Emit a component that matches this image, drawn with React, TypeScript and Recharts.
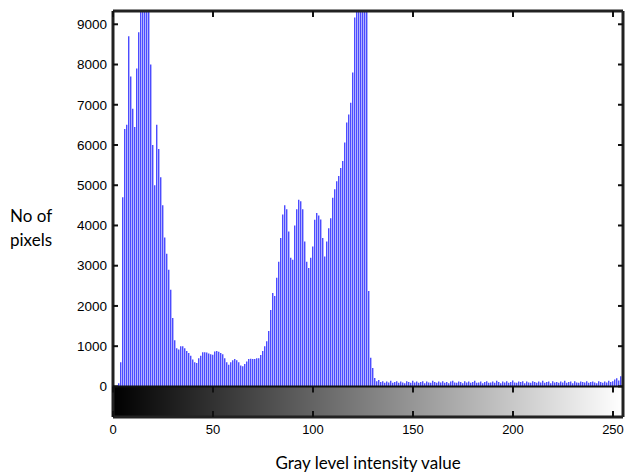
import { BarChart, Bar, XAxis, YAxis, ReferenceArea, ReferenceLine } from 'recharts';

// gray levels 0..255
const grayLevels: number[] = Array.from({ length: 256 }, (_, i) => i);

// pixel counts per gray level (bars above the top are clipped)
const pixelCounts: number[] = [
  0, 0, 0, 80, 600, 4700, 6400, 6500, 8700, 7700,
  6900, 6450, 7900, 8800, 9800, 12000, 12000, 12000, 11000, 8000,
  6000, 5000, 6500, 5900, 5200, 4500, 3700, 3300, 2900, 2400,
  1700, 1150, 950, 920, 1000, 1000, 950, 880, 830, 760,
  670, 600, 580, 700, 760, 850, 850, 840, 820, 800,
  790, 870, 880, 860, 830, 800, 700, 600, 540, 600,
  650, 680, 650, 600, 520, 500, 560, 620, 680, 690,
  680, 680, 700, 700, 780, 880, 1000, 1120, 1380, 1900,
  2320, 2250, 2700, 3100, 3690, 4270, 4500, 4400, 3850, 3200,
  3150, 4000, 4400, 4640, 4600, 4400, 3600, 3100, 2940, 3200,
  3480, 4140, 4310, 4250, 4150, 3690, 3230, 3600, 3930, 4180,
  4690, 4900, 5100, 5230, 5430, 5600, 6060, 6560, 6760, 7050,
  7800, 9170, 11000, 12000, 12000, 12000, 12000, 12000, 2370, 710,
  460, 210, 130, 160, 110, 130, 90, 120, 100, 140,
  90, 110, 130, 90, 120, 100, 80, 130, 110, 90,
  140, 100, 120, 90, 110, 130, 80, 120, 100, 90,
  140, 110, 90, 120, 100, 130, 90, 110, 80, 120,
  140, 100, 90, 120, 110, 80, 130, 100, 120, 90,
  110, 140, 90, 100, 120, 80, 110, 130, 90, 100,
  120, 90, 140, 110, 80, 120, 100, 130, 90, 110,
  150, 100, 90, 120, 110, 130, 80, 120, 100, 90,
  130, 110, 90, 120, 100, 140, 90, 110, 120, 80,
  130, 100, 110, 90, 120, 100, 140, 90, 110, 120,
  80, 130, 100, 90, 120, 110, 100, 130, 90, 110,
  120, 100, 80, 130, 110, 90, 120, 100, 140, 110,
  130, 170, 200, 150, 250, 290,
];

const xTicks: number[] = [0, 50, 100, 150, 200, 250];
const yTicks: number[] = [0, 1000, 2000, 3000, 4000, 5000, 6000, 7000, 8000, 9000];
const xDomain: [number, number] = [0, 255];
const yDomain: [number, number] = [-760, 9330];

const chartData = grayLevels.map((level, i) => ({ level, count: pixelCounts[i] }));

const tickFont = { fontFamily: '"Liberation Sans", Arial, sans-serif', fill: '#000' };

export default function App() {
  const [xMin, xMax] = xDomain;
  const [yMin, yMax] = yDomain;
  return (
    <div style={{ position: 'absolute', left: 0, top: 0, width: 625, height: 474, background: '#fff' }}>
      <div
        style={{
          position: 'absolute',
          left: 10,
          top: 204,
          fontFamily: 'Lato, sans-serif',
          fontSize: 17,
          lineHeight: '24px',
          color: '#000',
        }}
      >
        No of
        <br />
        pixels
      </div>
      <BarChart
        width={625}
        height={474}
        data={chartData}
        margin={{ top: 11, right: 2, bottom: 0, left: 13 }}
        barCategoryGap="15%"
      >
        <XAxis
          dataKey="level"
          type="number"
          domain={xDomain}
          ticks={xTicks}
          height={57}
          tickSize={0}
          tickMargin={8}
          tickLine={false}
          axisLine={false}
          tick={{ ...tickFont, fontSize: 13 }}
          label={{
            value: 'Gray level intensity value',
            position: 'insideBottom',
            offset: 5,
            style: { fontFamily: 'Lato, sans-serif', fontSize: 17, fill: '#000' },
          }}
        />
        <YAxis
          domain={yDomain}
          allowDataOverflow
          ticks={yTicks}
          width={100}
          tickSize={0}
          tickMargin={6}
          tickLine={false}
          axisLine={false}
          tick={{ ...tickFont, fontSize: 13.5 }}
        />
        {grayLevels.map((level) => (
          <ReferenceArea
            key={`g${level}`}
            x1={Math.max(xMin, level - 0.5)}
            x2={Math.min(xMax, level + 0.6)}
            y1={yMin}
            y2={0}
            fill={`rgb(${level},${level},${level})`}
            fillOpacity={1}
            stroke="none"
          />
        ))}
        <Bar dataKey="count" fill="#0000ff" isAnimationActive={false} />
        {/* plot frame and zero line */}
        <ReferenceLine y={yMax} stroke="#222" strokeWidth={3} ifOverflow="visible" />
        <ReferenceLine y={yMin} stroke="#222" strokeWidth={3} ifOverflow="visible" />
        <ReferenceLine x={xMin} stroke="#222" strokeWidth={3} ifOverflow="visible" />
        <ReferenceLine x={xMax} stroke="#222" strokeWidth={3} ifOverflow="visible" />
        <ReferenceLine y={0} stroke="#111" strokeWidth={2} />
        {/* inner tick marks */}
        {xTicks.map((t) => (
          <ReferenceLine
            key={`xb${t}`}
            segment={[{ x: t, y: yMin }, { x: t, y: yMin + 150 }]}
            stroke="#111"
            strokeWidth={2}
            ifOverflow="visible"
          />
        ))}
        {xTicks.map((t) => (
          <ReferenceLine
            key={`xz${t}`}
            segment={[{ x: t, y: 0 }, { x: t, y: -150 }]}
            stroke="#111"
            strokeWidth={2}
            ifOverflow="visible"
          />
        ))}
        {xTicks.map((t) => (
          <ReferenceLine
            key={`xt${t}`}
            segment={[{ x: t, y: yMax }, { x: t, y: yMax - 150 }]}
            stroke="#111"
            strokeWidth={2}
            ifOverflow="visible"
          />
        ))}
        {yTicks.map((t) => (
          <ReferenceLine
            key={`yl${t}`}
            segment={[{ x: xMin, y: t }, { x: xMin + 2.5, y: t }]}
            stroke="#111"
            strokeWidth={2}
            ifOverflow="visible"
          />
        ))}
        {yTicks.map((t) => (
          <ReferenceLine
            key={`yr${t}`}
            segment={[{ x: xMax, y: t }, { x: xMax - 2.5, y: t }]}
            stroke="#111"
            strokeWidth={2}
            ifOverflow="visible"
          />
        ))}
      </BarChart>
    </div>
  );
}
